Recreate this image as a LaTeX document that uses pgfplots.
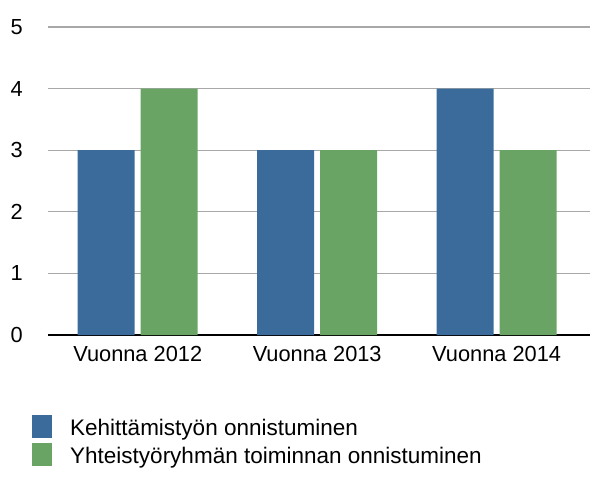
\documentclass[border=0pt]{standalone}
\usepackage{pgfplots}
\pgfplotsset{compat=1.18}
\usepackage{fontspec}
\setmainfont{Liberation Sans}
\definecolor{cblue}{HTML}{3A6B9B}
\definecolor{cgreen}{HTML}{6AA465}
\definecolor{cgrid}{HTML}{A8A8A8}
\pgfplotsset{sqlegend/.style={legend image code/.code={\fill[##1, draw=none] (0pt,-10pt) rectangle (20pt,13pt);}}}
\begin{document}
\begin{tikzpicture}
\useasboundingbox (-48pt,-152pt) rectangle (559pt,335pt);
\begin{axis}[
  at={(0pt,0pt)}, anchor=south west,
  scale only axis, width=542pt, height=308pt,
  xmin=-0.5, xmax=2.52, ymin=0, ymax=5,
  axis x line*=bottom, axis y line*=left,
  x axis line style={black, line width=1.3pt, -},
  y axis line style={draw=none},
  ymajorgrids, grid style={cgrid, line width=1.3pt},
  major tick length=0pt,
  ytick={0,1,2,3,4,5},
  xtick={0,1,2},
  xticklabels={Vuonna 2012, Vuonna 2013, Vuonna 2014},
  tick label style={font=\fontsize{21.8}{26}\selectfont},
  /pgf/number format/assume math mode=true,
  yticklabel style={anchor=west, xshift=-41pt},
  xticklabel style={yshift=-8pt},
  ybar, bar width=57pt,
  legend style={at={(axis description cs:-0.0295,-0.2595)}, anchor=north west,
    draw=none, fill=none, font=\fontsize{22.5}{27}\selectfont,
    row sep=4pt, column sep=16pt, inner sep=0pt},
  legend cell align=left,
]
\addplot[fill=cblue, draw=none, bar shift=-31.5pt, sqlegend]
  coordinates {(0,3) (1,3) (2,4)};
\addplot[fill=cgreen, draw=none, bar shift=31.5pt, sqlegend]
  coordinates {(0,4) (1,3) (2,3)};
\legend{Kehittämistyön onnistuminen, Yhteistyöryhmän toiminnan onnistuminen}
\end{axis}
\end{tikzpicture}
\end{document}
